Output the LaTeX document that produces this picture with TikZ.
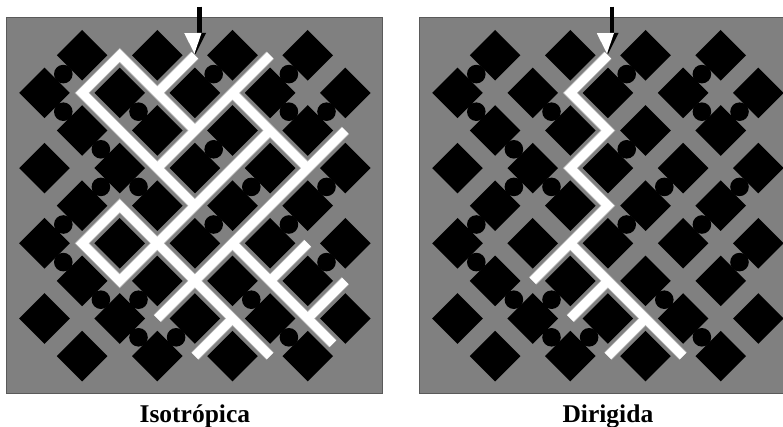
\documentclass[tikz,border=0pt]{standalone}
\usepackage{fontspec}
\setmainfont{Liberation Serif}
\definecolor{mediumgray}{RGB}{128,128,128}
\definecolor{edgegray}{RGB}{90,90,90}
\definecolor{halogray}{RGB}{178,178,178}
\tikzset{
  medium/.style={fill=mediumgray,draw=edgegray,line width=1pt},
  grain/.style={fill=black},
  blocker/.style={fill=black},
  invaded/.style={draw=white,line width=9pt,line join=miter,line cap=butt},
  halo/.style={draw=halogray,line width=10.6pt,line join=miter,line cap=butt},
  caption/.style={font=\fontsize{25.5}{30}\selectfont\bfseries,anchor=base,inner sep=0pt},
  shaft/.style={draw=black,line width=4.3pt}
}
\newcommand{\porelattice}{%
  \filldraw[medium] (-1,-1) rectangle (9,9);
  \foreach \r in {0,2,4,6,8}{\foreach \c in {1,3,5,7}{%
    \fill[grain] (\c,\r) +(-25.3pt,0pt) -- +(0pt,25.3pt) -- +(25.3pt,0pt) -- +(0pt,-25.3pt) -- cycle;}}
  \foreach \r in {1,3,5,7}{\foreach \c in {0,2,4,6,8}{%
    \fill[grain] (\c,\r) +(-25.3pt,0pt) -- +(0pt,25.3pt) -- +(25.3pt,0pt) -- +(0pt,-25.3pt) -- cycle;}}
  \foreach \p in {(0.5,0.5),(0.5,1.5),(2.5,1.5),(1.5,2.5),(1.5,3.5),(2.5,3.5),
                  (4.5,0.5),(6.5,0.5),(6.5,1.5),(7.5,1.5),(4.5,2.5),(5.5,3.5),(7.5,3.5),
                  (0.5,4.5),(0.5,5.5),(1.5,6.5),(2.5,6.5),(2.5,7.5),(3.5,7.5),
                  (4.5,4.5),(6.5,4.5),(7.5,5.5),(5.5,6.5),(6.5,7.5)}{%
    \fill[blocker] \p circle (9.3pt);}
}
\newcommand{\isopaths}[1]{%
  \draw[#1] (4,2) -- (2,0) -- (1,1) -- (4,4);
  \draw[#1] (6,0) -- (3,3);
  \draw[#1] (4,0) -- (3,1);
  \draw[#1] (5,1) -- (7,3);
  \draw[#1] (8,2) -- (3,7);
  \draw[#1] (6,2) -- (3,5);
  \draw[#1] (3,5) -- (2,4) -- (1,5) -- (2,6) -- cycle;
  \draw[#1] (3,5) -- (6,8);
  \draw[#1] (5,7) -- (4,8);
  \draw[#1] (5,5) -- (7.67,7.67);
  \draw[#1] (7,5) -- (6,6);
  \draw[#1] (8,6) -- (7,7);}
\newcommand{\dirpaths}[1]{%
  \draw[#1] (4,0) -- (3,1) -- (4,2) -- (3,3) -- (4,4) -- (2,6);
  \draw[#1] (3,5) -- (6,8);
  \draw[#1] (4,6) -- (3,7);
  \draw[#1] (5,7) -- (4,8);}
\newcommand{\inletarrow}[1]{%
  \begin{scope}[shift={(#1,0)}]
    \coordinate (top) at (199.5,6.7);
    \coordinate (base) at (199.5,33.5);
    \draw[shaft] (top) -- (base);
    \fill[black] (184,33) -- (206,33) -- (195.5,54) -- cycle;
    \fill[white] (184,33) -- (201.5,33) -- (194.5,53.5) -- cycle;
  \end{scope}}
\begin{document}
\begin{tikzpicture}[x=1pt,y=-1pt]
\useasboundingbox (0,0) rectangle (783,427);
% left panel: isotropic invasion
\begin{scope}[shift={(44.5,55.3)},x=37.6pt,y=-37.6pt]
  \porelattice
  \isopaths{halo}
  \isopaths{invaded}
\end{scope}
% right panel: directed invasion
\begin{scope}[shift={(457.5,55.3)},x=37.6pt,y=-37.6pt]
  \porelattice
  \dirpaths{halo}
  \dirpaths{invaded}
\end{scope}
\inletarrow{0}
\inletarrow{412.5}
\node[caption] (isolabel) at (194.9,422.7) {Isotrópica};
\node[caption] (dirlabel) at (607.9,422.7) {Dirigida};
\end{tikzpicture}
\end{document}
